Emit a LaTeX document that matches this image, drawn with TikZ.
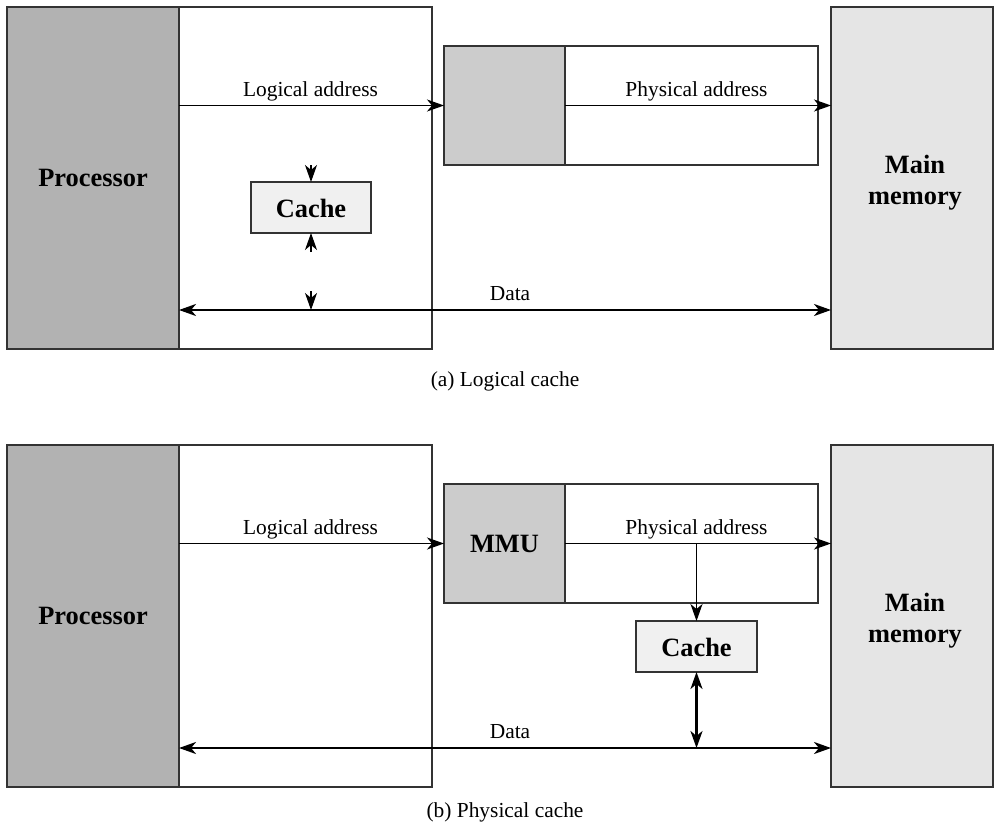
\documentclass[tikz,border=0pt]{standalone}
\usepackage{fontspec}
\setmainfont{Liberation Serif}
\usetikzlibrary{arrows.meta,fit}
\begin{document}
\begin{tikzpicture}[x=0.5pt,y=-0.5pt,
  box/.style={draw=black!80, line width=0.6pt, inner sep=0pt, outer sep=0pt},
  bigtext/.style={font=\fontsize{13.2}{15.5}\selectfont\bfseries, align=center, inner sep=0pt},
  lbl/.style={font=\fontsize{10.7}{12.5}\selectfont, inner sep=0pt},
  thin/.style={line width=0.6pt, -{Stealth[length=8.5pt,width=6pt,inset=2.5pt]}},
  thick/.style={line width=1.2pt, {Stealth[length=8.5pt,width=6pt,inset=2.5pt]}-{Stealth[length=8.5pt,width=6pt,inset=2.5pt]}},
  tiponly/.style={line width=0.6pt, -{Stealth[length=8.5pt,width=6pt,inset=2.5pt]}}
]
\useasboundingbox (0,0) rectangle (1000,824);

% ---------------- (a) Logical cache ----------------
\node[box, fill=black!30, fit={(7,7) (179,349)}] (procA) {};
\node[bigtext] (procAt) at (93,178) {Processor};
\node[box, fill=white, fit={(179,7) (432,349)}] (busA) {};
\node[box, fill=white, fit={(565,46) (818,165)}] (addrA) {};
\node[box, fill=black!20, fit={(444,46) (565,165)}] (mmuA) {};
\node[box, fill=black!10, fit={(831,7) (993,349)}] (memA) {};
\node[bigtext] (memAt) at (915,183) {Main\\memory};
\node[box, fill=black!6, minimum width=60pt, minimum height=25.5pt] (cacheA) at (311,207.5) {};
\node[bigtext] (cacheAt) at (311,208) {Cache};

\draw[thin] (procA.east |- mmuA.west) -- (mmuA.west);
\draw[thin] (mmuA.east) -- (memA.west |- mmuA.east);
\coordinate (dA) at (311,310);
\draw[thick] (procA.east |- dA) -- (memA.west |- dA);

\node[lbl] (laA) at (310.5,91) {Logical address};
\node[lbl] (paA) at (696.5,91) {Physical address};
\node[lbl] (dataA) at (510,294) {Data};

% isolated arrowheads
\coordinate (a1) at (311,165);
\coordinate (a2) at (311,252);
\coordinate (a3) at (311,291);
\draw[tiponly] (a1) -- (cacheA.north);
\draw[tiponly] (a2) -- (cacheA.south);
\draw[tiponly] (a3) -- (dA);

\node[lbl] (capA) at (505,381) {(a) Logical cache};

% ---------------- (b) Physical cache ----------------
\node[box, fill=black!30, fit={(7,445) (179,787)}] (procB) {};
\node[bigtext] (procBt) at (93,616) {Processor};
\node[box, fill=white, fit={(179,445) (432,787)}] (busB) {};
\node[box, fill=white, fit={(565,484) (818,603)}] (addrB) {};
\node[box, fill=black!20, fit={(444,484) (565,603)}] (mmuB) {};
\node[bigtext] (mmuBt) at (504.5,544) {MMU};
\node[box, fill=black!10, fit={(831,445) (993,787)}] (memB) {};
\node[bigtext] (memBt) at (915,621) {Main\\memory};
\node[box, fill=black!6, minimum width=60.5pt, minimum height=25.5pt] (cacheB) at (696.5,646.5) {};
\node[bigtext] (cacheBt) at (696.5,647) {Cache};

\draw[thin] (procB.east |- mmuB.west) -- (mmuB.west);
\draw[thin] (mmuB.east) -- (memB.west |- mmuB.east);
\coordinate (pB) at (696.5,544);
\draw[thin] (pB) -- (cacheB.north);
\coordinate (dB) at (696.5,748);
\draw[thick] (procB.east |- dB) -- (memB.west |- dB);
\draw[thick] (cacheB.south) -- (dB);

\node[lbl] (laB) at (310.5,529) {Logical address};
\node[lbl] (paB) at (696.5,529) {Physical address};
\node[lbl] (dataB) at (510,732) {Data};

\node[lbl] (capB) at (505,812) {(b) Physical cache};
\end{tikzpicture}
\end{document}
